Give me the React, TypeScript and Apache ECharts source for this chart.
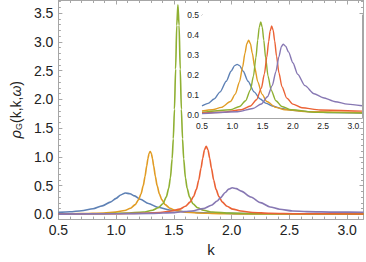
import { useEffect, useRef } from "react";
import * as echarts from "echarts";

// ---------- axis ranges & ticks ----------
const K_MIN = 0.5;
const K_MAX = 3.1416;
const MAIN_Y_MIN = -0.08;
const MAIN_Y_MAX = 3.72;
const INSET_Y_MIN = -0.013;
const INSET_Y_MAX = 0.5;

const xMajorTicks = [0.5, 1.0, 1.5, 2.0, 2.5, 3.0];
const mainYMajorTicks = [0.0, 0.5, 1.0, 1.5, 2.0, 2.5, 3.0, 3.5];
const insetYMajorTicks = [0.0, 0.1, 0.2, 0.3, 0.4, 0.5];

const SERIES_NAMES = ["s1", "s2", "s3", "s4", "s5"];
const COLORS = ["#5E81B5", "#E19C24", "#8FB032", "#EB6235", "#8778B3"];

// ---------- main plot data ----------
const mainBlueK = [0.5, 0.6, 0.7, 0.8, 0.88, 0.95, 1.0, 1.04, 1.08, 1.12, 1.16, 1.21, 1.28, 1.36, 1.46, 1.58, 1.7, 1.85, 2.1, 2.5, 3.1416];
const mainBlueV = [0.037, 0.047, 0.065, 0.1, 0.15, 0.215, 0.28, 0.34, 0.375, 0.36, 0.323, 0.264, 0.19, 0.127, 0.078, 0.05, 0.035, 0.025, 0.015, 0.009, 0.006];

const mainOrangeK = [0.5, 0.695, 0.895, 0.995, 1.075, 1.125, 1.165, 1.195, 1.215, 1.235, 1.25, 1.265, 1.275, 1.285, 1.295, 1.305, 1.315, 1.325, 1.34, 1.355, 1.375, 1.395, 1.425, 1.465, 1.515, 1.595, 1.695, 1.895, 2.095, 2.5, 3.1416];
const mainOrangeV = [0.011, 0.015, 0.026, 0.042, 0.07, 0.109, 0.172, 0.258, 0.356, 0.503, 0.659, 0.846, 0.969, 1.061, 1.096, 1.061, 0.969, 0.846, 0.659, 0.503, 0.356, 0.258, 0.172, 0.109, 0.07, 0.042, 0.026, 0.015, 0.011, 0.008, 0.007];

const mainGreenK = [0.5, 0.835, 1.085, 1.235, 1.315, 1.365, 1.405, 1.435, 1.455, 1.47, 1.485, 1.495, 1.505, 1.515, 1.525, 1.535, 1.545, 1.555, 1.565, 1.575, 1.585, 1.6, 1.615, 1.635, 1.665, 1.705, 1.755, 1.835, 1.985, 2.235, 3.1416];
const mainGreenV = [0.01, 0.014, 0.023, 0.043, 0.073, 0.117, 0.187, 0.307, 0.457, 0.637, 0.967, 1.317, 1.827, 2.527, 3.287, 3.647, 3.287, 2.527, 1.827, 1.317, 0.967, 0.637, 0.457, 0.307, 0.187, 0.117, 0.073, 0.043, 0.023, 0.014, 0.008];

const mainRedK = [0.5, 0.98, 1.23, 1.38, 1.48, 1.55, 1.6, 1.64, 1.67, 1.695, 1.715, 1.735, 1.75, 1.765, 1.78, 1.795, 1.81, 1.825, 1.845, 1.865, 1.89, 1.92, 1.96, 2.01, 2.08, 2.18, 2.33, 2.58, 3.1416];
const mainRedV = [0.009, 0.014, 0.022, 0.036, 0.06, 0.093, 0.143, 0.215, 0.311, 0.436, 0.596, 0.806, 0.979, 1.126, 1.186, 1.126, 0.979, 0.806, 0.596, 0.436, 0.311, 0.215, 0.143, 0.093, 0.06, 0.036, 0.022, 0.014, 0.009];

const mainPurpleK = [0.5, 1.005, 1.305, 1.505, 1.655, 1.755, 1.825, 1.875, 1.905, 1.945, 1.975, 2.005, 2.04, 2.083, 2.167, 2.25, 2.333, 2.416, 2.527, 2.65, 2.9, 3.1416];
const mainPurpleV = [0.007, 0.012, 0.019, 0.033, 0.06, 0.102, 0.161, 0.234, 0.293, 0.383, 0.441, 0.464, 0.45, 0.406, 0.303, 0.206, 0.131, 0.091, 0.062, 0.05, 0.042, 0.04];

// ---------- inset data ----------
const insetBlueK = [0.5, 0.6, 0.7, 0.8, 0.9, 0.98, 1.04, 1.08, 1.12, 1.18, 1.26, 1.36, 1.46, 1.56, 1.66, 1.8, 2.0, 2.3, 2.7, 3.1416];
const insetBlueV = [0.047, 0.06, 0.082, 0.117, 0.17, 0.22, 0.248, 0.254, 0.248, 0.22, 0.17, 0.117, 0.082, 0.06, 0.047, 0.035, 0.025, 0.018, 0.014, 0.012];

const insetOrangeK = [0.5, 0.67, 0.82, 0.97, 1.05, 1.12, 1.17, 1.21, 1.24, 1.27, 1.3, 1.33, 1.37, 1.42, 1.49, 1.57, 1.72, 1.87, 2.27, 3.1416];
const insetOrangeV = [0.022, 0.028, 0.04, 0.069, 0.106, 0.168, 0.24, 0.311, 0.357, 0.375, 0.357, 0.311, 0.24, 0.168, 0.106, 0.069, 0.04, 0.028, 0.018, 0.014];

const insetGreenK = [0.5, 0.97, 1.12, 1.22, 1.3, 1.35, 1.39, 1.42, 1.445, 1.47, 1.495, 1.52, 1.55, 1.59, 1.64, 1.72, 1.82, 1.97, 2.4, 3.1416];
const insetGreenV = [0.015, 0.028, 0.044, 0.073, 0.127, 0.197, 0.288, 0.375, 0.439, 0.466, 0.439, 0.375, 0.288, 0.197, 0.127, 0.073, 0.044, 0.028, 0.015, 0.012];

const insetRedK = [0.5, 0.85, 1.15, 1.3, 1.4, 1.48, 1.53, 1.57, 1.6, 1.625, 1.65, 1.675, 1.7, 1.73, 1.77, 1.82, 1.9, 2.0, 2.15, 2.45, 3.1416];
const insetRedV = [0.012, 0.016, 0.028, 0.047, 0.078, 0.136, 0.206, 0.291, 0.367, 0.42, 0.445, 0.424, 0.371, 0.296, 0.212, 0.143, 0.086, 0.056, 0.038, 0.027, 0.021];

const insetPurpleK = [0.5, 1.09, 1.34, 1.48, 1.58, 1.66, 1.72, 1.77, 1.81, 1.84, 1.88, 1.93, 2.0, 2.08, 2.2, 2.35, 2.5, 2.7, 2.9, 3.1416];
const insetPurpleV = [0.009, 0.018, 0.034, 0.057, 0.093, 0.148, 0.218, 0.292, 0.342, 0.355, 0.345, 0.315, 0.262, 0.205, 0.148, 0.108, 0.088, 0.068, 0.056, 0.048];

const mainSets = [
  [mainBlueK, mainBlueV],
  [mainOrangeK, mainOrangeV],
  [mainGreenK, mainGreenV],
  [mainRedK, mainRedV],
  [mainPurpleK, mainPurpleV],
];
const insetSets = [
  [insetBlueK, insetBlueV],
  [insetOrangeK, insetOrangeV],
  [insetGreenK, insetGreenV],
  [insetRedK, insetRedV],
  [insetPurpleK, insetPurpleV],
];

const FRAME = "#a6a6a6";
const LABEL = "#222";
const FONT = "Liberation Sans, Arial, sans-serif";

function zip(k: number[], v: number[]) {
  return k.map((x, i) => [x, v[i]]);
}

function steps(from: number, to: number, step: number, exclude: number[]) {
  const out: number[] = [];
  const n = Math.round((to - from) / step);
  for (let i = 0; i <= n; i++) {
    const v = +(from + i * step).toFixed(4);
    if (!exclude.some((m) => Math.abs(m - v) < 1e-6)) out.push(v);
  }
  return out;
}

function axisSet(
  dir: "x" | "y",
  gridIndex: number,
  min: number,
  max: number,
  majors: number[],
  minors: number[],
  fontSize: number,
  majorLen: number,
  minorLen: number,
  labelMargin: number,
  extra: any
) {
  const pos = dir === "x" ? ["bottom", "top"] : ["left", "right"];
  const base = {
    type: "value",
    gridIndex,
    min,
    max,
    splitLine: { show: false },
  };
  const res: any[] = [];
  pos.forEach((p, pi) => {
    res.push({
      ...base,
      position: p,
      axisLine: { show: true, onZero: false, lineStyle: { color: FRAME, width: 1 } },
      axisTick: { show: true, inside: true, length: majorLen, customValues: majors, lineStyle: { color: FRAME, width: 1 } },
      axisLabel: {
        show: pi === 0,
        customValues: majors,
        formatter: (v: number) => v.toFixed(1),
        fontSize,
        fontFamily: FONT,
        color: LABEL,
        margin: labelMargin,
      },
      ...(pi === 0 ? extra : {}),
    });
    res.push({
      ...base,
      position: p,
      axisLine: { show: false, onZero: false },
      axisTick: { show: true, inside: true, length: minorLen, customValues: minors, lineStyle: { color: FRAME, width: 1 } },
      axisLabel: { show: false },
    });
  });
  return res;
}

export default function App() {
  const ref = useRef<HTMLDivElement>(null);
  useEffect(() => {
    if (!ref.current) return;
    const chart = echarts.init(ref.current, undefined, { renderer: "svg" });

    const xMinor = steps(0.5, 3.1, 0.1, xMajorTicks);
    const mainYMinor = steps(0, 3.7, 0.1, mainYMajorTicks);
    const insetYMinor = steps(0, 0.5, 0.02, insetYMajorTicks);

    const mainX = axisSet("x", 0, K_MIN, K_MAX, xMajorTicks, xMinor, 14, 4, 2.5, 4, {
      name: "k",
      nameLocation: "middle",
      nameGap: 22,
      nameTextStyle: { fontSize: 15, fontFamily: FONT, color: LABEL },
    });
    const mainY = axisSet("y", 0, MAIN_Y_MIN, MAIN_Y_MAX, mainYMajorTicks, mainYMinor, 14, 4, 2.5, 5, {
      name: "{r|ρ}{s|G}{t|(k,k,}{w|ω}{t|)}",
      nameLocation: "middle",
      nameRotate: 90,
      nameGap: 33,
      nameTextStyle: {
        color: LABEL,
        rich: {
          r: { fontSize: 15, fontStyle: "italic", fontFamily: FONT, color: LABEL },
          s: { fontSize: 9, fontFamily: FONT, color: LABEL, verticalAlign: "bottom", padding: [6, 0, 0, 0] },
          t: { fontSize: 14, fontFamily: FONT, color: LABEL },
          w: { fontSize: 14, fontStyle: "italic", fontFamily: FONT, color: LABEL },
        },
      },
    });
    const insetX = axisSet("x", 1, K_MIN, K_MAX, xMajorTicks, xMinor, 8.5, 3, 1.5, 3, {});
    const insetY = axisSet("y", 1, INSET_Y_MIN, INSET_Y_MAX, insetYMajorTicks, insetYMinor, 8.5, 3, 1.5, 3, {});

    const series: any[] = [];
    mainSets.forEach(([k, v], i) => {
      series.push({
        name: SERIES_NAMES[i],
        type: "line",
        xAxisIndex: 0,
        yAxisIndex: 0,
        data: zip(k, v),
        showSymbol: false,
        smooth: 0.25,
        smoothMonotone: "x",
        clip: true,
        lineStyle: { color: COLORS[i], width: 1.6 },
        z: 2,
      });
    });
    insetSets.forEach(([k, v], i) => {
      series.push({
        name: SERIES_NAMES[i] + "_inset",
        type: "line",
        xAxisIndex: 4,
        yAxisIndex: 4,
        data: zip(k, v),
        showSymbol: false,
        smooth: 0.25,
        smoothMonotone: "x",
        clip: true,
        lineStyle: { color: COLORS[i], width: 1.4 },
        z: 4,
      });
    });

    chart.setOption({
      animation: false,
      backgroundColor: "#fff",
      grid: [
        { left: 46, right: 2.5, top: 0.5, bottom: 41, containLabel: false },
        { left: 202, right: 4, top: 15, bottom: 144, containLabel: false, show: true, backgroundColor: "#fff", borderWidth: 0, z: 3 },
      ],
      xAxis: [...mainX, ...insetX],
      yAxis: [...mainY, ...insetY],
      series,
    });
    return () => chart.dispose();
  }, []);
  return <div ref={ref} style={{ position: "fixed", left: 0, top: 0, width: 366, height: 262 }} />;
}
